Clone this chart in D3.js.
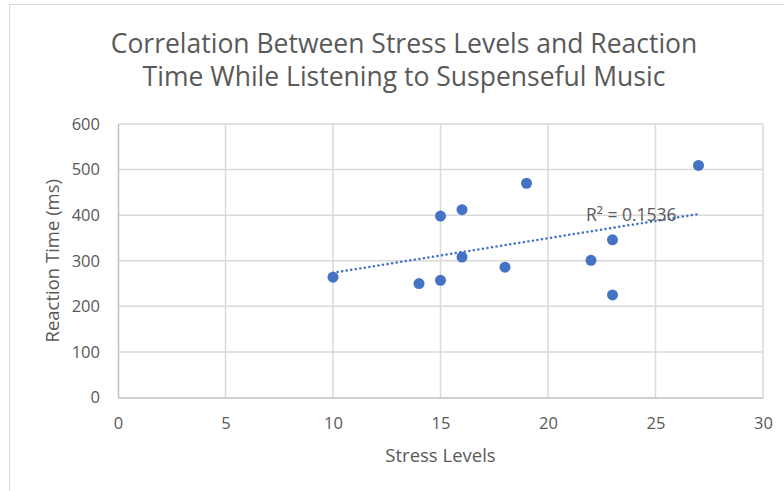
<!DOCTYPE html>
<html>
<head>
<meta charset="utf-8">
<script src="https://cdn.jsdelivr.net/npm/d3@7"></script>
<style>
  body { margin: 0; background: #fff; }
  text { font-family: "Open Sans", "Noto Sans", sans-serif; fill: #595959; }
</style>
</head>
<body>
<div id="chart"></div>
<script>
let stress = [10, 14, 15, 15, 16, 16, 18, 19, 22, 23, 23, 27];
let reaction = [264, 250, 257, 398, 412, 308, 286, 470, 301, 346, 225, 509];
let xTicks = [0, 5, 10, 15, 20, 25, 30];
let yTicks = [0, 100, 200, 300, 400, 500, 600];
let titleLines = ["Correlation Between Stress Levels and Reaction", "Time While Listening to Suspenseful  Music"];
let r2Label = "R² = 0.1536";

let width = 784;
let height = 491;
let plotLeft = 118, plotRight = 763, plotTop = 124, plotBottom = 397.5;

let svg = d3.select("#chart").append("svg")
  .attr("width", width)
  .attr("height", height);

// chart border
svg.append("rect")
  .attr("x", 9.5).attr("y", 4.5)
  .attr("width", 800).attr("height", 520)
  .attr("fill", "none")
  .attr("stroke", "#d9d9d9");

let x = d3.scaleLinear().domain([0, 30]).range([plotLeft, plotRight]);
let y = d3.scaleLinear().domain([0, 600]).range([plotBottom, plotTop]);

// gridlines
svg.append("g").selectAll("line").data(yTicks.slice(1)).join("line")
  .attr("x1", plotLeft).attr("x2", plotRight)
  .attr("y1", d => y(d)).attr("y2", d => y(d))
  .attr("stroke", "#d9d9d9").attr("stroke-width", 1.5);
svg.append("g").selectAll("line").data(xTicks.slice(1)).join("line")
  .attr("x1", d => x(d)).attr("x2", d => x(d))
  .attr("y1", plotTop).attr("y2", plotBottom)
  .attr("stroke", "#d9d9d9").attr("stroke-width", 1.5);

// axes
let xAxis = svg.append("g")
  .attr("transform", "translate(0," + plotBottom + ")")
  .call(d3.axisBottom(x).tickValues(xTicks).tickSize(0).tickPadding(20));
let yAxis = svg.append("g")
  .attr("transform", "translate(" + plotLeft + ",0)")
  .call(d3.axisLeft(y).tickValues(yTicks).tickSize(0).tickPadding(18));
[xAxis, yAxis].forEach(function (g) {
  g.select(".domain").attr("stroke", "#bfbfbf").attr("stroke-width", 1.5);
  g.selectAll("text").style("font-size", "16.5px").attr("fill", "#595959");
});

// trendline (least squares)
let mx = d3.mean(stress), my = d3.mean(reaction);
let sxy = d3.sum(stress, (d, i) => (d - mx) * (reaction[i] - my));
let sxx = d3.sum(stress, d => (d - mx) * (d - mx));
let slope = sxy / sxx;
let intercept = my - slope * mx;
let xr = d3.extent(stress);

svg.append("line")
  .attr("x1", x(xr[0])).attr("y1", y(intercept + slope * xr[0]))
  .attr("x2", x(xr[1])).attr("y2", y(intercept + slope * xr[1]))
  .attr("stroke", "#4472c4")
  .attr("stroke-width", 2.5)
  .attr("stroke-dasharray", "0.1,4.5")
  .attr("stroke-linecap", "round");

// points
svg.append("g").selectAll("circle").data(stress).join("circle")
  .attr("cx", d => x(d))
  .attr("cy", (d, i) => y(reaction[i]))
  .attr("r", 5.5)
  .attr("fill", "#4472c4");

svg.append("text")
  .attr("x", 586).attr("y", 221)
  .style("font-size", "17.5px")
  .text(r2Label);

// titles
svg.append("g").selectAll("text").data(titleLines).join("text")
  .attr("x", 404)
  .attr("y", (d, i) => 53 + i * 33)
  .attr("text-anchor", "middle")
  .style("font-size", "26.5px")
  .text(d => d);

svg.append("text")
  .attr("x", x(15)).attr("y", 462)
  .attr("text-anchor", "middle")
  .style("font-size", "18.5px")
  .text("Stress Levels");

svg.append("text")
  .attr("transform", "translate(59," + (plotTop + plotBottom) / 2 + ") rotate(-90)")
  .attr("text-anchor", "middle")
  .style("font-size", "18.5px")
  .text("Reaction Time (ms)");
</script>
</body>
</html>
